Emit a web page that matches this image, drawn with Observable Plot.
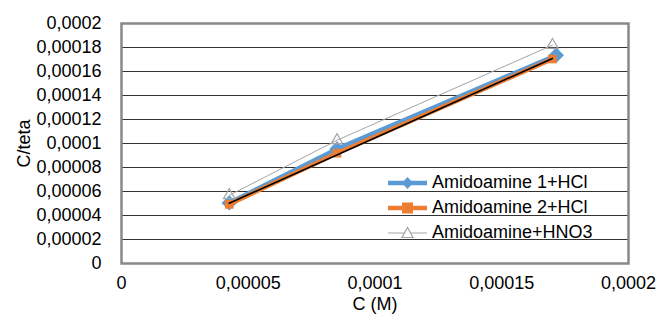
<!DOCTYPE html>
<html>
<head>
<meta charset="utf-8">
<script src="https://cdn.jsdelivr.net/npm/d3@7"></script>
<script src="https://cdn.jsdelivr.net/npm/@observablehq/plot@0.6"></script>
<style>
  body { margin: 0; background: #fff; }
  #chart { position: relative; width: 661px; height: 322px; font-family: "Liberation Sans", Arial, sans-serif; }
  #legend { position: absolute; left: 386px; top: 170px; font-size: 18px; color: #000; }
  #legend .row { display: flex; align-items: center; height: 25px; }
  #legend svg { display: block; margin-right: 3px; }
</style>
</head>
<body>
<div id="chart"></div>
<script>
const seriesNames = ["Amidoamine 1+HCl", "Amidoamine 2+HCl", "Amidoamine+HNO3"];
const xBlue = [0.0000425, 0.000085, 0.0001715];
const yBlue = [0.0000505, 0.0000955, 0.0001735];
const xOrange = [0.0000425, 0.000085, 0.00017];
const yOrange = [0.0000493, 0.0000919, 0.0001704];
const xGray = [0.0000425, 0.000085, 0.00017];
const yGray = [0.0000568, 0.0001027, 0.000182];
const xTicks = [0, 0.00005, 0.0001, 0.00015, 0.0002];
const yTicks = [0, 0.00002, 0.00004, 0.00006, 0.00008, 0.0001, 0.00012, 0.00014, 0.00016, 0.00018, 0.0002];
const xTickLabels = ["0", "0,00005", "0,0001", "0,00015", "0,0002"];
const yTickLabels = ["0", "0,00002", "0,00004", "0,00006", "0,00008", "0,0001", "0,00012", "0,00014", "0,00016", "0,00018", "0,0002"];
const colors = ["#5B9BD5", "#ED7D31", "#A5A5A5"];

const blue = xBlue.map((x, i) => ({x, y: yBlue[i]}));
const orange = xOrange.map((x, i) => ({x, y: yOrange[i]}));
const gray = xGray.map((x, i) => ({x, y: yGray[i]}));

const fmt = (arr, labels) => d => labels[arr.indexOf(d)];

const plot = Plot.plot({
  width: 661,
  height: 322,
  marginLeft: 121,
  marginRight: 33,
  marginTop: 23,
  marginBottom: 59,
  style: { fontFamily: "Liberation Sans, Arial, sans-serif", fontSize: "18px", color: "#000", background: "#fff" },
  x: { domain: [0, 0.0002], ticks: xTicks, tickFormat: fmt(xTicks, xTickLabels), tickSize: 0, tickPadding: 13,
       label: "C (M)", labelAnchor: "center", labelArrow: "none", labelOffset: 46 },
  y: { domain: [0, 0.0002], ticks: yTicks, tickFormat: fmt(yTicks, yTickLabels), tickSize: 0, tickPadding: 20,
       label: "C/teta", labelAnchor: "center", labelArrow: "none", labelOffset: 104 },
  marks: [
    Plot.gridY(yTicks, { stroke: "#000", strokeOpacity: 0.8, strokeWidth: 1 }),
    Plot.frame({ stroke: "#898989", strokeWidth: 2.5 }),
    Plot.line(blue, { x: "x", y: "y", stroke: colors[0], strokeWidth: 4.5 }),
    Plot.dot(blue, { x: "x", y: "y", symbol: "diamond2", r: 6, fill: colors[0], stroke: colors[0] }),
    Plot.line(orange, { x: "x", y: "y", stroke: colors[1], strokeWidth: 4.5 }),
    Plot.dot(orange, { x: "x", y: "y", symbol: "square2", r: 5.5, fill: colors[1], stroke: "none" }),
    Plot.linearRegressionY(orange, { x: "x", y: "y", stroke: "#000", strokeWidth: 1.6, ci: 0 }),
    Plot.line(gray, { x: "x", y: "y", stroke: colors[2], strokeWidth: 1 }),
    Plot.dot(gray, { x: "x", y: "y", symbol: "triangle2", r: 5.5, fill: "none", stroke: colors[2], strokeWidth: 1.2 }),
    Plot.axisX({ ticks: xTicks, tickFormat: fmt(xTicks, xTickLabels), tickSize: 0, tickPadding: 13, label: "C (M)", labelAnchor: "center", labelArrow: "none", labelOffset: 46 }),
    Plot.axisY({ ticks: yTicks, tickFormat: fmt(yTicks, yTickLabels), tickSize: 0, tickPadding: 20, label: "C/teta", labelAnchor: "center", labelArrow: "none", labelOffset: 104 })
  ]
});
const chart = document.getElementById("chart");
chart.appendChild(plot);

// legend inside plot area
const legend = document.createElement("div");
legend.id = "legend";
const swatches = [
  `<line x1="2" y1="8" x2="41" y2="8" stroke="${colors[0]}" stroke-width="4.5"/><path d="M21.5 2 L27 8 L21.5 14 L16 8 Z" fill="${colors[0]}"/>`,
  `<line x1="2" y1="8" x2="41" y2="8" stroke="${colors[1]}" stroke-width="4.5"/><rect x="16" y="2.5" width="11" height="11" fill="${colors[1]}"/>`,
  `<line x1="2" y1="8" x2="41" y2="8" stroke="${colors[2]}" stroke-width="1"/><path d="M21.5 2.5 L27 12.5 L16 12.5 Z" fill="#fff" stroke="${colors[2]}" stroke-width="1.2"/>`
];
seriesNames.forEach((name, i) => {
  const row = document.createElement("div");
  row.className = "row";
  row.innerHTML = `<svg width="43" height="16">${swatches[i]}</svg><span>${name}</span>`;
  legend.appendChild(row);
});
chart.appendChild(legend);
</script>
</body>
</html>
